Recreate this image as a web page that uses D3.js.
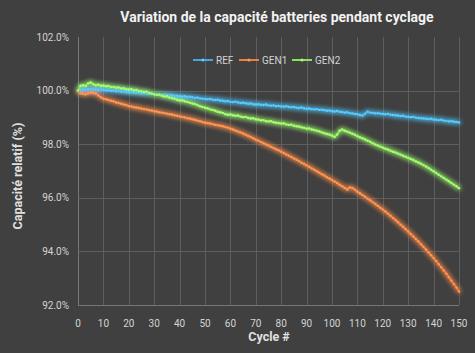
<!DOCTYPE html>
<html>
<head>
<meta charset="utf-8">
<script src="https://cdn.jsdelivr.net/npm/d3@7"></script>
<style>
  body { margin: 0; background: #404040; }
  text { font-family: Roboto, "Liberation Sans", sans-serif; }
</style>
</head>
<body>
<svg id="chart" width="475" height="353"></svg>
<script>
let seriesNames = ["REF", "GEN1", "GEN2"],
  seriesColors = ["#46a6e0", "#f57b42", "#86e35c"],
  yTicks = [92, 94, 96, 98, 100, 102],
  xTicks = d3.range(0, 151, 10);

let ref = [
  100.00, 100.02, 100.04, 100.03, 100.05, 100.06, 100.04, 100.05, 100.03, 100.04,
  100.02, 100.01, 100.02, 99.99, 100.00, 99.98, 99.99, 99.96, 99.97, 99.95,
  99.94, 99.95, 99.93, 99.92, 99.93, 99.90, 99.91, 99.89, 99.88, 99.89,
  99.86, 99.87, 99.85, 99.84, 99.85, 99.83, 99.82, 99.83, 99.80, 99.81,
  99.79, 99.78, 99.79, 99.76, 99.77, 99.75, 99.73, 99.74, 99.71, 99.70,
  99.69, 99.68, 99.69, 99.66, 99.65, 99.66, 99.63, 99.62, 99.60, 99.61,
  99.58, 99.57, 99.59, 99.56, 99.54, 99.55, 99.53, 99.51, 99.52, 99.49,
  99.48, 99.49, 99.47, 99.46, 99.48, 99.45, 99.44, 99.45, 99.42, 99.43,
  99.41, 99.40, 99.42, 99.39, 99.38, 99.39, 99.36, 99.35, 99.37, 99.34,
  99.32, 99.33, 99.31, 99.30, 99.31, 99.28, 99.29, 99.27, 99.25, 99.26,
  99.23, 99.22, 99.24, 99.21, 99.20, 99.18, 99.19, 99.16, 99.15, 99.13,
  99.12, 99.09, 99.07, 99.14, 99.21, 99.18, 99.17, 99.15, 99.16, 99.14,
  99.13, 99.12, 99.13, 99.10, 99.09, 99.08, 99.07, 99.05, 99.06, 99.03,
  99.02, 99.01, 99.02, 98.99, 98.98, 98.97, 98.96, 98.95, 98.94, 98.95,
  98.92, 98.91, 98.90, 98.91, 98.88, 98.87, 98.85, 98.86, 98.84, 98.83,
  98.81
];

let gen1 = [
  100.00, 99.90, 99.88, 99.86, 99.90, 99.92, 99.91, 99.89, 99.82, 99.75,
  99.70, 99.68, 99.65, 99.62, 99.60, 99.56, 99.54, 99.51, 99.48, 99.46,
  99.42, 99.41, 99.38, 99.37, 99.35, 99.33, 99.31, 99.30, 99.27, 99.26,
  99.23, 99.22, 99.19, 99.18, 99.16, 99.14, 99.12, 99.11, 99.08, 99.06,
  99.04, 99.02, 99.00, 98.97, 98.96, 98.93, 98.91, 98.88, 98.86, 98.83,
  98.80, 98.79, 98.77, 98.75, 98.72, 98.71, 98.69, 98.67, 98.64, 98.62,
  98.58, 98.55, 98.51, 98.47, 98.44, 98.40, 98.35, 98.31, 98.27, 98.22,
  98.17, 98.13, 98.08, 98.04, 97.99, 97.95, 97.90, 97.86, 97.81, 97.77,
  97.72, 97.67, 97.62, 97.57, 97.52, 97.47, 97.42, 97.37, 97.31, 97.26,
  97.21, 97.16, 97.10, 97.05, 96.99, 96.94, 96.88, 96.83, 96.77, 96.72,
  96.66, 96.61, 96.55, 96.49, 96.43, 96.37, 96.31, 96.39, 96.37, 96.30,
  96.23, 96.17, 96.10, 96.04, 95.97, 95.91, 95.84, 95.77, 95.70, 95.63,
  95.56, 95.49, 95.41, 95.33, 95.25, 95.17, 95.09, 95.00, 94.92, 94.83,
  94.74, 94.65, 94.56, 94.46, 94.37, 94.27, 94.17, 94.07, 93.96, 93.86,
  93.75, 93.64, 93.52, 93.41, 93.29, 93.17, 93.04, 92.91, 92.78, 92.65,
  92.50
];

let gen2 = [
  100.00, 100.18, 100.20, 100.17, 100.27, 100.30, 100.24, 100.20, 100.22, 100.18,
  100.19, 100.16, 100.17, 100.13, 100.14, 100.11, 100.12, 100.08, 100.09, 100.05,
  100.04, 100.05, 100.01, 100.02, 99.98, 99.97, 99.95, 99.96, 99.91, 99.89,
  99.86, 99.84, 99.85, 99.81, 99.78, 99.79, 99.74, 99.72, 99.70, 99.66,
  99.63, 99.64, 99.60, 99.58, 99.55, 99.52, 99.50, 99.46, 99.42, 99.39,
  99.36, 99.34, 99.30, 99.28, 99.25, 99.21, 99.19, 99.17, 99.12, 99.10,
  99.11, 99.08, 99.06, 99.07, 99.03, 99.01, 99.02, 98.98, 98.96, 98.97,
  98.93, 98.92, 98.89, 98.90, 98.86, 98.85, 98.86, 98.82, 98.80, 98.79,
  98.77, 98.78, 98.74, 98.72, 98.73, 98.69, 98.67, 98.66, 98.63, 98.61,
  98.58, 98.59, 98.55, 98.53, 98.50, 98.48, 98.44, 98.41, 98.38, 98.36,
  98.32, 98.27, 98.36, 98.50, 98.55, 98.50, 98.47, 98.43, 98.39, 98.35,
  98.30, 98.26, 98.22, 98.18, 98.13, 98.09, 98.04, 97.99, 97.95, 97.91,
  97.87, 97.83, 97.80, 97.76, 97.72, 97.69, 97.65, 97.61, 97.57, 97.53,
  97.49, 97.45, 97.41, 97.36, 97.32, 97.27, 97.22, 97.17, 97.11, 97.05,
  96.99, 96.93, 96.86, 96.80, 96.74, 96.68, 96.62, 96.55, 96.49, 96.43,
  96.36
];

let width = 475,
  height = 353,
  margins = {left: 78, right: 16, top: 37, bottom: 48};

let svg = d3.select("#chart");

let x = d3.scaleLinear()
  .domain([0, 150])
  .range([margins.left, width - margins.right]);
let y = d3.scaleLinear()
  .domain([92, 102])
  .range([height - margins.bottom, margins.top]);

// glow filter
let defs = svg.append("defs");
let glow = defs.append("filter")
  .attr("id", "glow")
  .attr("x", "-10%").attr("y", "-10%")
  .attr("width", "120%").attr("height", "120%");
glow.append("feGaussianBlur")
  .attr("in", "SourceGraphic")
  .attr("stdDeviation", 2.4)
  .attr("result", "blur");
let merge = glow.append("feMerge");
merge.append("feMergeNode").attr("in", "blur");
merge.append("feMergeNode").attr("in", "blur");
merge.append("feMergeNode").attr("in", "SourceGraphic");

// grid
let grid = svg.append("g").attr("stroke", "#5e5e5e").attr("stroke-width", 1);
grid.selectAll(".vx")
  .data(xTicks).enter()
  .append("line")
  .attr("x1", d => Math.round(x(d)) + 0.5)
  .attr("x2", d => Math.round(x(d)) + 0.5)
  .attr("y1", y(102))
  .attr("y2", y(92));
grid.selectAll(".hy")
  .data(yTicks.filter(d => d < 102)).enter()
  .append("line")
  .attr("x1", x(0))
  .attr("x2", x(150))
  .attr("y1", d => Math.round(y(d)) + 0.5)
  .attr("y2", d => Math.round(y(d)) + 0.5);
svg.append("line")
  .attr("x1", Math.round(x(0)) + 0.5).attr("x2", Math.round(x(0)) + 0.5)
  .attr("y1", y(102)).attr("y2", y(92))
  .attr("stroke", "#767676");
svg.append("line")
  .attr("x1", x(0)).attr("x2", x(150))
  .attr("y1", Math.round(y(92)) + 0.5).attr("y2", Math.round(y(92)) + 0.5)
  .attr("stroke", "#767676");

// tick labels
svg.append("g").selectAll("text")
  .data(yTicks).enter()
  .append("text")
  .attr("x", 69)
  .attr("y", d => y(d))
  .attr("dy", "0.35em")
  .attr("text-anchor", "end")
  .attr("font-size", 10)
  .attr("fill", "#d4d4d4")
  .text(d => d.toFixed(1) + "%");
svg.append("g").selectAll("text")
  .data(xTicks).enter()
  .append("text")
  .attr("x", d => x(d))
  .attr("y", 323)
  .attr("dy", "0.35em")
  .attr("text-anchor", "middle")
  .attr("font-size", 10)
  .attr("fill", "#d4d4d4")
  .text(d => d);

// series
let series = [ref, gen1, gen2];
let line = d3.line()
  .x((d, i) => x(i))
  .y(d => y(d));
let lines = svg.append("g").attr("filter", "url(#glow)");
series.forEach((values, k) => {
  let g = lines.append("g");
  g.append("path")
    .datum(values)
    .attr("d", line)
    .attr("fill", "none")
    .attr("stroke", seriesColors[k])
    .attr("stroke-width", 1.8);
  g.selectAll("circle")
    .data(values).enter()
    .append("circle")
    .attr("cx", (d, i) => x(i))
    .attr("cy", d => y(d))
    .attr("r", 1.2)
    .attr("fill", d3.color(seriesColors[k]).brighter(0.6));
});

// legend
let legendX = [193, 239, 292];
let legend = svg.append("g");
seriesNames.forEach((name, k) => {
  let lg = legend.append("g").attr("transform", `translate(${legendX[k]}, 60)`);
  lg.append("line")
    .attr("x1", 0).attr("x2", 20)
    .attr("stroke", seriesColors[k])
    .attr("stroke-width", 2);
  lg.append("circle")
    .attr("cx", 10).attr("r", 1.5)
    .attr("fill", d3.color(seriesColors[k]).brighter(0.6));
  lg.append("text")
    .attr("x", 23)
    .attr("dy", "0.35em")
    .attr("font-size", 10)
    .attr("fill", "#d4d4d4")
    .text(name);
});

// titles
svg.append("text")
  .attr("x", 277)
  .attr("y", 17)
  .attr("dy", "0.35em")
  .attr("text-anchor", "middle")
  .attr("font-size", 14)
  .attr("font-weight", "bold")
  .attr("fill", "#f2f2f2")
  .text("Variation de la capacité batteries pendant cyclage");
svg.append("text")
  .attr("transform", "translate(18, 176) rotate(-90)")
  .attr("dy", "0.35em")
  .attr("text-anchor", "middle")
  .attr("font-size", 12.5)
  .attr("font-weight", "bold")
  .attr("fill", "#e0e0e0")
  .text("Capacité relatif (%)");
svg.append("text")
  .attr("x", 269)
  .attr("y", 337)
  .attr("dy", "0.35em")
  .attr("text-anchor", "middle")
  .attr("font-size", 12.5)
  .attr("font-weight", "bold")
  .attr("fill", "#e0e0e0")
  .text("Cycle #");
</script>
</body>
</html>
